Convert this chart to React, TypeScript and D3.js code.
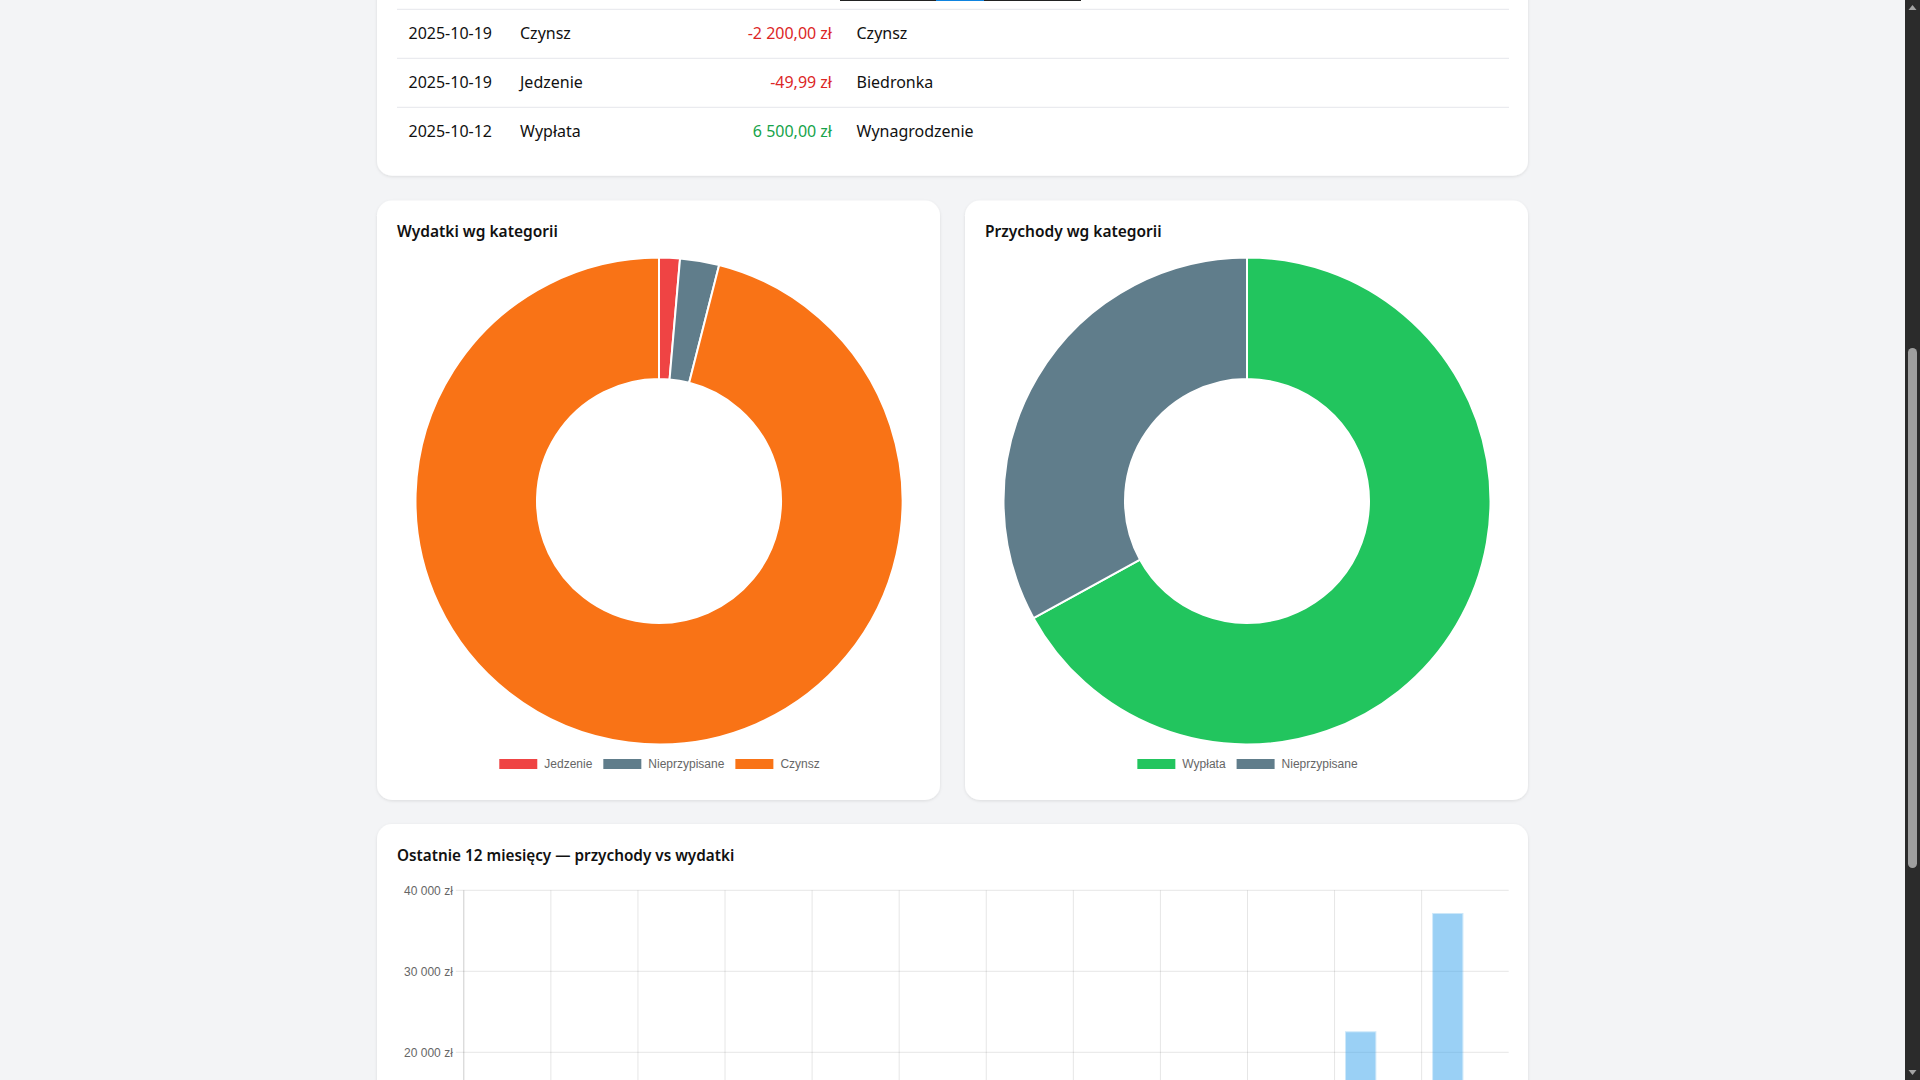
import * as d3 from 'd3';
import { useEffect, useRef } from 'react';

// recent transactions (table)
const txDates = ['2025-10-19', '2025-10-19', '2025-10-12'];
const txCategories = ['Czynsz', 'Jedzenie', 'Wypłata'];
const txAmounts = [-2200, -49.99, 6500];
const txDescriptions = ['Czynsz', 'Biedronka', 'Wynagrodzenie'];

// expenses by category (donut)
const expenseCategories = ['Jedzenie', 'Nieprzypisane', 'Czynsz'];
const expenseValues = [49.99, 94, 3480];
const expenseColors = ['#ef4444', '#607d8b', '#f97316'];

// income by category (donut)
const incomeCategories = ['Wypłata', 'Nieprzypisane'];
const incomeValues = [6500, 3200];
const incomeColors = ['#22c55e', '#607d8b'];

// last 12 months
const months = [
  '2024-11', '2024-12', '2025-01', '2025-02', '2025-03', '2025-04',
  '2025-05', '2025-06', '2025-07', '2025-08', '2025-09', '2025-10',
];
const monthlyIncome = [0, 0, 0, 0, 0, 0, 0, 0, 0, 0, 22600, 37200];
const monthlyExpenses = [0, 0, 0, 0, 0, 0, 0, 0, 0, 0, 0, 3620];
const seriesNames = ['Przychody', 'Wydatki'];
const seriesColors = ['rgb(54,162,235)', 'rgb(255,99,132)'];
const yTicks = [0, 10000, 20000, 30000, 40000];

const pl = d3.formatLocale({
  decimal: ',',
  thousands: '\u00a0',
  grouping: [3],
  currency: ['', '\u00a0zł'],
  minus: '-',
});
const fmtMoney = pl.format(',.2f');
const fmtTick = pl.format(',.0f');

const FONT = '"Noto Sans", sans-serif';
const CHART_FONT = '"Liberation Sans", Arial, Helvetica, sans-serif';
const VIEW_H = 1080;

const App = () => {
  const svgRef = useRef<SVGSVGElement>(null);

  useEffect(() => {
    if (!svgRef.current) return;
    const svg = d3.select(svgRef.current);
    svg.selectAll('*').remove();

    const defs = svg.append('defs');
    const shadow = defs.append('filter').attr('id', 'card-shadow')
      .attr('x', '-5%').attr('y', '-5%').attr('width', '110%').attr('height', '110%');
    shadow.append('feDropShadow').attr('dx', 0).attr('dy', 1)
      .attr('stdDeviation', 1.5).attr('flood-color', '#000').attr('flood-opacity', 0.1);

    svg.append('rect').attr('width', 1920).attr('height', VIEW_H).attr('fill', '#f3f4f6');

    const card = (x: number, y: number, w: number, h: number) =>
      svg.append('rect').attr('x', x).attr('y', y).attr('width', w).attr('height', h)
        .attr('rx', 15).attr('fill', '#fff').attr('filter', 'url(#card-shadow)');

    // --- transactions card ---
    card(377, -300, 1151, 475.7);
    svg.append('rect').attr('x', 840).attr('y', -1).attr('width', 241).attr('height', 2).attr('fill', '#222');
    svg.append('rect').attr('x', 936).attr('y', -1).attr('width', 48).attr('height', 2).attr('fill', '#0f84e0');

    const rowY = d3.scaleBand<number>().domain(txDates.map((_, i) => i)).range([9.3, 156.3]);
    const rows = svg.append('g');
    txDates.forEach((date, i) => {
      const y0 = rowY(i) ?? 0;
      const cy = y0 + rowY.bandwidth() / 2;
      rows.append('line').attr('x1', 397).attr('x2', 1509).attr('y1', y0).attr('y2', y0)
        .attr('stroke', '#e5e7eb').attr('stroke-width', 1);
      const t = (x: number, s: string, anchor = 'start', color = '#111') =>
        rows.append('text').attr('x', x).attr('y', cy).attr('dy', '0.35em')
          .attr('text-anchor', anchor).attr('fill', color)
          .attr('font-family', FONT).attr('font-size', 16).text(s);
      t(408.5, date);
      t(520, txCategories[i]);
      t(832, `${fmtMoney(txAmounts[i])} zł`, 'end', txAmounts[i] < 0 ? '#dc2626' : '#16a34a');
      t(856.5, txDescriptions[i]);
    });

    // --- donut cards ---
    const donut = (x: number, title: string, cats: string[], vals: number[], colors: string[]) => {
      const w = 563;
      card(x, 200.5, w, 599.5);
      svg.append('text').attr('x', x + 20).attr('y', 231.5).attr('dy', '0.35em')
        .attr('font-family', FONT).attr('font-size', 15.5).attr('font-weight', 600)
        .attr('fill', '#111').text(title);
      const cx = x + w / 2 + 0.5;
      const cy = 501;
      const pie = d3.pie<number>().sort(null).value((d) => d);
      const arc = d3.arc<d3.PieArcDatum<number>>().innerRadius(122).outerRadius(243.5);
      const g = svg.append('g').attr('transform', `translate(${cx},${cy})`);
      g.selectAll('path').data(pie(vals)).join('path')
        .attr('d', arc).attr('fill', (_, i) => colors[i])
        .attr('stroke', '#fff').attr('stroke-width', 2).attr('stroke-linejoin', 'round');

      // legend (chart.js style)
      const lg = svg.append('g');
      let lx = 0;
      cats.forEach((c, i) => {
        lg.append('rect').attr('x', lx + 1).attr('y', -5).attr('width', 38).attr('height', 10)
          .attr('fill', colors[i]);
        const tx = lg.append('text').attr('x', lx + 46).attr('y', 0).attr('dy', '0.35em')
          .attr('font-family', CHART_FONT).attr('font-size', 12).attr('fill', '#666').text(c);
        const tw = (tx.node() as SVGTextElement).getComputedTextLength();
        lx += 46 + tw + 10;
      });
      const total = lx - 10;
      lg.attr('transform', `translate(${cx - total / 2},764)`);
    };
    donut(377, 'Wydatki wg kategorii', expenseCategories, expenseValues, expenseColors);
    donut(965, 'Przychody wg kategorii', incomeCategories, incomeValues, incomeColors);

    // --- 12 months bar chart ---
    card(377, 824, 1151, 600);
    svg.append('text').attr('x', 397).attr('y', 856).attr('dy', '0.35em')
      .attr('font-family', FONT).attr('font-size', 15.3).attr('font-weight', 600)
      .attr('fill', '#111').text('Ostatnie 12 miesięcy — przychody vs wydatki');

    const plotL = 463.8;
    const plotR = 1508.7;
    const x0 = d3.scaleBand<string>().domain(months).range([plotL, plotR]);
    const bw = x0.bandwidth();
    const x1 = d3.scaleBand<string>().domain(seriesNames).range([0.1 * bw, 0.9 * bw])
      .paddingInner(0.1).paddingOuter(0.05);
    const y = d3.scaleLinear().domain([0, 40000]).range([1214.3, 890.3]);

    const grid = svg.append('g');
    yTicks.forEach((v) => {
      grid.append('line').attr('x1', plotL - 8).attr('x2', plotR).attr('y1', y(v)).attr('y2', y(v))
        .attr('stroke', 'rgba(0,0,0,0.1)');
      // labels scrolled out of the viewport are not drawn
      if (y(v) + 8 > VIEW_H) return;
      grid.append('text').attr('x', plotL - 11).attr('y', y(v)).attr('dy', '0.35em')
        .attr('text-anchor', 'end').attr('font-family', CHART_FONT).attr('font-size', 12)
        .attr('fill', '#666').text(`${fmtTick(v)} zł`);
    });
    months.forEach((m, i) => {
      if (i === 0) return;
      const gx = x0(m) ?? 0;
      grid.append('line').attr('x1', gx).attr('x2', gx).attr('y1', y(40000)).attr('y2', y(0) + 8)
        .attr('stroke', 'rgba(0,0,0,0.1)');
    });
    grid.append('line').attr('x1', plotL).attr('x2', plotL).attr('y1', y(40000)).attr('y2', y(0))
      .attr('stroke', 'rgba(0,0,0,0.2)');

    const series = [monthlyIncome, monthlyExpenses];
    series.forEach((vals, si) => {
      const name = seriesNames[si];
      const color = seriesColors[si];
      const bars = svg.append('g');
      vals.forEach((v, i) => {
        if (v <= 0) return;
        const bx = (x0(months[i]) ?? 0) + (x1(name) ?? 0);
        const by = y(v);
        const bh = y(0) - by;
        // main fill inset by the 1px border, then a lighter border around it
        bars.append('rect').attr('x', bx + 1).attr('y', by + 1)
          .attr('width', x1.bandwidth() - 2).attr('height', bh - 1)
          .attr('fill', color).attr('fill-opacity', 0.5);
        bars.append('rect').attr('x', bx + 0.5).attr('y', by + 0.5)
          .attr('width', x1.bandwidth() - 1).attr('height', bh)
          .attr('fill', 'none').attr('stroke', color).attr('stroke-opacity', 0.25);
      });
    });

    // --- browser scrollbar ---
    svg.append('rect').attr('x', 1905).attr('y', 0).attr('width', 15).attr('height', VIEW_H).attr('fill', '#2b2b2b');
    svg.append('rect').attr('x', 1908).attr('y', 348).attr('width', 9).attr('height', 520)
      .attr('rx', 4.5).attr('fill', '#9f9f9f');
    svg.append('path').attr('d', 'M1908.5,10 L1912.5,5 L1916.5,10 Z').attr('fill', '#a3a3a3');
    svg.append('path').attr('d', 'M1908.5,1070 L1912.5,1075 L1916.5,1070 Z').attr('fill', '#a3a3a3');
  }, []);

  return (
    <svg
      ref={svgRef}
      width={1920}
      height={VIEW_H}
      style={{ position: 'fixed', left: 0, top: 0, display: 'block' }}
    />
  );
};

export default App;
